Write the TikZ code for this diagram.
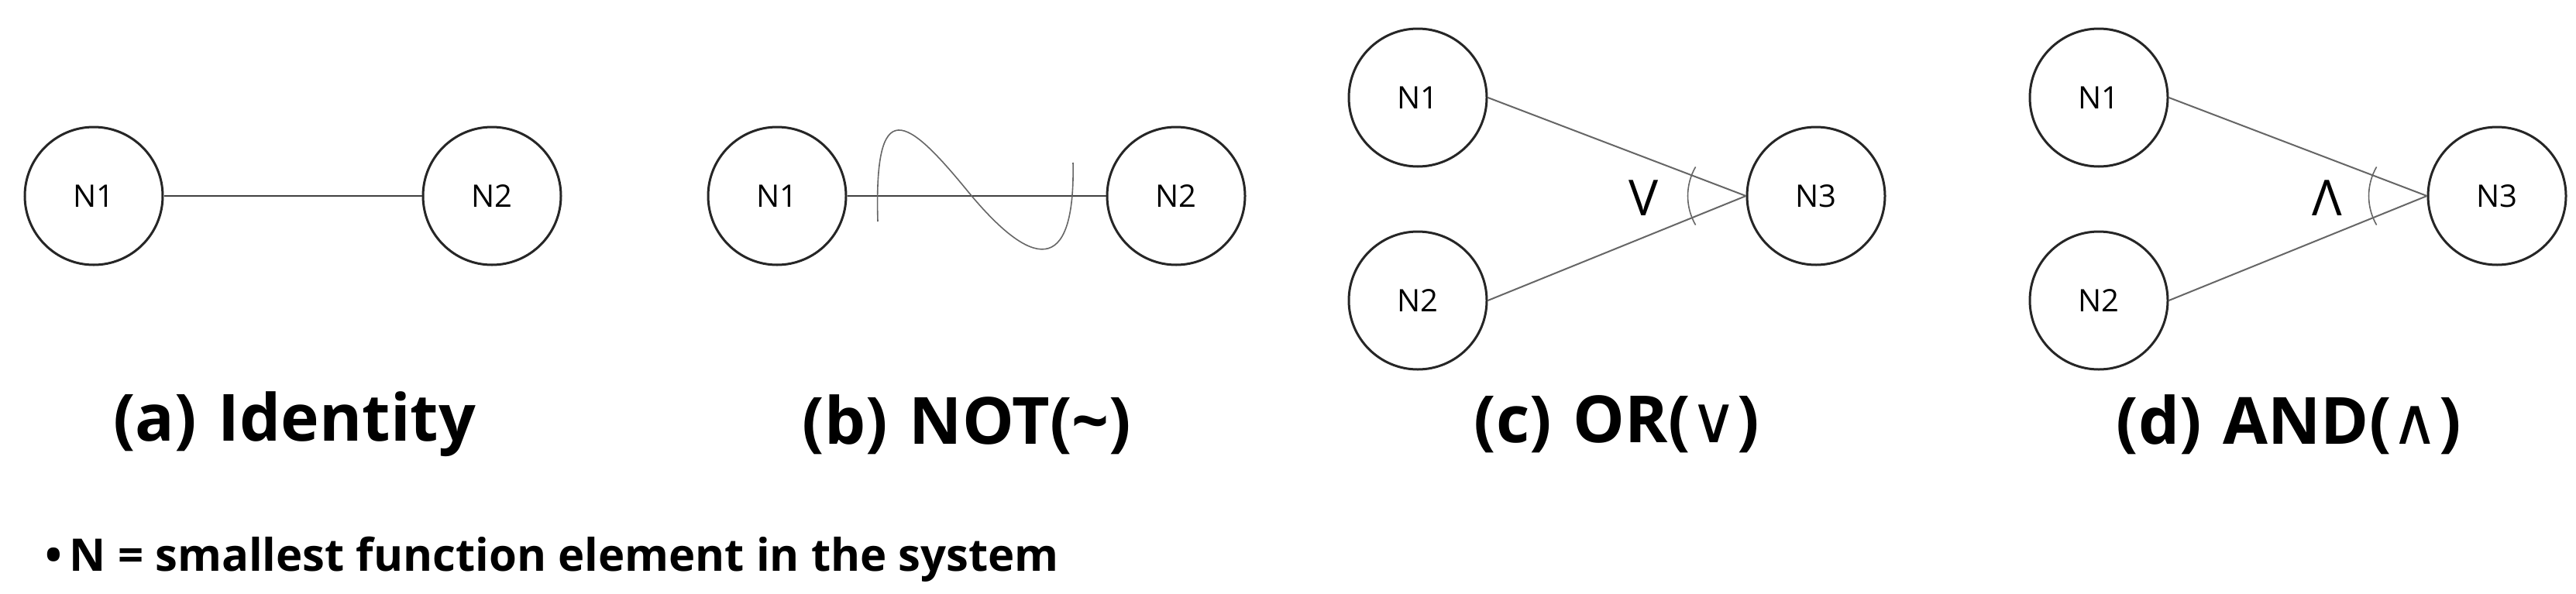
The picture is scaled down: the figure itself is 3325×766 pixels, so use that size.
\documentclass[tikz,border=0pt]{standalone}
\usepackage{fontspec}
\setmainfont{Open Sans}
\newfontfamily\symf{DejaVu Sans}
\begin{document}
\begin{tikzpicture}[x=1pt,y=-1pt,
  nd/.style={circle,draw=black!85,line width=3pt,minimum size=178pt,inner sep=0pt,font=\fontsize{40}{44}\selectfont},
  ln/.style={draw=black!60,line width=2pt},
  captxt/.style={font=\bfseries\fontsize{84}{90}\selectfont}]
\useasboundingbox[fill=white] (0,0) rectangle (3325,766);
% (a)
\node[nd] (a1) at (121,253) {N1};
\node[nd] (a2) at (635,253) {N2};
\draw[ln,draw=black!75] (a1) -- (a2);
\node[captxt] (ca) at (380,548) {(a)\,\,Identity};
% (b)
\node[nd] (b1) at (1003,253) {N1};
\node[nd] (b2) at (1518,253) {N2};
\draw[ln,draw=black!75] (b1) -- (b2);
\draw[draw=black!60,line width=1.6pt] (1133,286) .. controls (1128,120) and (1170,150) .. (1250,248) .. controls (1330,345) and (1388,360) .. (1385,210);
\node[captxt] (cb) at (1248,548) {(b)\,\,NOT(\textasciitilde)};
% (c)
\node[nd] (c1) at (1830,126) {N1};
\node[nd] (c2) at (1830,388) {N2};
\node[nd] (c3) at (2344,253) {N3};
\coordinate (cm) at (c3.west);
\draw[ln] (c1.east) -- (cm);
\draw[ln] (c2.east) -- (cm);
\draw[draw=black!60,line width=1.6pt] ([shift={(150:75)}]cm) arc[start angle=150,end angle=210,radius=75];
\node[font=\fontsize{64}{70}\selectfont] (cv) at (2122,256) {V};
\node[captxt] (cc) at (2087,548) {(c)\,\,OR({\symf\mdseries ∨})};
% (d)
\node[nd] (d1) at (2709,126) {N1};
\node[nd] (d2) at (2709,388) {N2};
\node[nd] (d3) at (3223,253) {N3};
\coordinate (dm) at (d3.west);
\draw[ln] (d1.east) -- (dm);
\draw[ln] (d2.east) -- (dm);
\draw[draw=black!60,line width=1.6pt] ([shift={(150:75)}]dm) arc[start angle=150,end angle=210,radius=75];
\node[font=\fontsize{64}{70}\selectfont] (dv) at (3004,256) {Λ};
\node[captxt] (cd) at (2954,548) {(d)\,\,AND({\symf\mdseries ∧})};
% note
\node[anchor=west,font=\bfseries\fontsize{58}{62}\selectfont] (nt) at (55,722) {•\,N = smallest function element in the system};
\end{tikzpicture}
\end{document}
